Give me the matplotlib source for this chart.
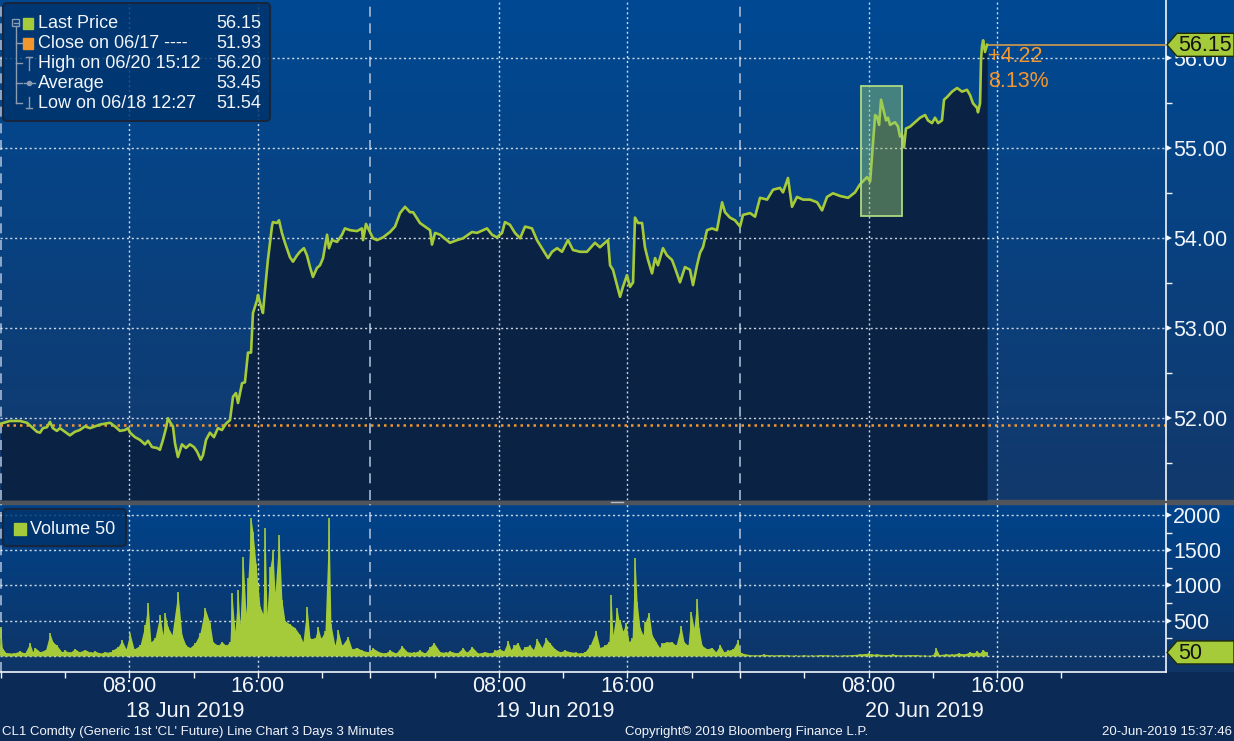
import numpy as np
import matplotlib.pyplot as plt
import matplotlib.transforms as mtrans
from matplotlib.colors import LinearSegmentedColormap
from matplotlib.patches import Rectangle, Polygon, FancyBboxPatch

plt.rcParams['font.family'] = ['Liberation Sans', 'DejaVu Sans']

W, H = 1234, 741

# time axis: chart hours from 18 Jun 00:00, each day is a 23h session (22:00-23:00 break dropped)
session_len = 23
price_t = [0.00, 0.58, 1.20, 1.64, 2.01, 2.26, 2.45, 2.63, 2.88, 3.07, 3.25, 3.50, 3.69, 4.00, 4.31,
           4.62, 4.93, 5.25, 5.56, 5.87, 6.18, 6.49, 6.80, 7.11, 7.42, 7.74, 7.92, 8.05, 8.36, 8.67,
           8.98, 9.17, 9.42, 9.73, 9.91, 10.10, 10.29, 10.41, 10.60, 10.72, 10.85, 11.03, 11.28, 11.53,
           11.78, 12.03, 12.22, 12.45, 12.59, 12.78, 13.02, 13.27, 13.52, 13.77, 14.02, 14.27, 14.46,
           14.64, 14.77, 15.02, 15.20, 15.39, 15.58, 15.70, 15.95, 16.01, 16.20, 16.32, 16.51, 16.63,
           16.88, 16.94, 17.19, 17.32, 17.50, 17.69, 18.00, 18.19, 18.44, 18.62, 18.87, 19.06, 19.25,
           19.43, 19.68, 19.87, 20.06, 20.31, 20.43, 20.62, 20.93, 21.24, 21.42, 21.74, 22.17, 22.48,
           22.55, 22.73, 22.98, 23.17, 23.42, 23.79, 24.23, 24.54, 24.85, 25.16, 25.47, 25.66, 26.09,
           26.40, 26.72, 26.84, 27.03, 27.34, 27.96, 28.40, 28.77, 29.33, 29.64, 30.26, 30.57, 30.88,
           31.20, 31.38, 31.69, 32.00, 32.32, 32.63, 33.06, 33.37, 33.75, 34.06, 34.31, 34.62, 34.93,
           35.30, 35.61, 36.05, 36.48, 36.98, 37.29, 37.79, 37.92, 38.10, 38.54, 38.72, 38.97, 39.16,
           39.35, 39.47, 39.66, 39.91, 40.09, 40.28, 40.53, 40.72, 40.90, 41.21, 41.46, 41.77, 41.96,
           42.27, 42.58, 42.89, 43.08, 43.33, 43.52, 43.70, 43.95, 44.26, 44.57, 44.89, 45.07, 45.38,
           45.69, 46.01, 46.19, 46.63, 46.94, 47.25, 47.69, 48.06, 48.49, 48.68, 48.99, 49.24, 49.55,
           49.93, 50.36, 50.80, 51.11, 51.42, 51.79, 52.23, 52.73, 53.16, 53.47, 53.91, 54.10, 54.28,
           54.41, 54.53, 54.66, 54.78, 54.90, 55.09, 55.21, 55.34, 55.65, 55.84, 55.96, 56.09, 56.21,
           56.33, 56.58, 56.90, 57.21, 57.52, 57.70, 57.95, 58.14, 58.33, 58.57, 58.70, 58.89, 59.20,
           59.51, 59.82, 60.13, 60.32, 60.50, 60.75, 60.81, 60.94, 61.00, 61.06, 61.13, 61.25, 61.38]
price_v = [51.94, 51.97, 51.97, 51.95, 51.89, 51.85, 51.84, 51.89, 51.90, 51.96, 51.89, 51.86, 51.89, 51.85, 51.81,
           51.85, 51.87, 51.91, 51.89, 51.91, 51.93, 51.94, 51.95, 51.91, 51.86, 51.87, 51.89, 51.84, 51.79, 51.76,
           51.71, 51.75, 51.68, 51.67, 51.65, 51.76, 51.89, 52.00, 51.94, 51.91, 51.72, 51.57, 51.71, 51.67,
           51.71, 51.68, 51.63, 51.54, 51.59, 51.76, 51.84, 51.79, 51.89, 51.87, 51.94, 51.98, 52.24,
           52.28, 52.17, 52.39, 52.40, 52.73, 52.73, 53.17, 53.31, 53.37, 53.24, 53.17, 53.54, 53.76,
           54.13, 54.18, 54.17, 54.20, 54.06, 53.95, 53.79, 53.74, 53.81, 53.85, 53.89, 53.81, 53.68,
           53.57, 53.67, 53.70, 53.78, 54.04, 53.89, 53.98, 53.96, 54.04, 54.11, 54.09, 54.08, 54.11,
           53.98, 54.16, 54.07, 54.00, 53.98, 54.01, 54.07, 54.13, 54.28, 54.35, 54.29, 54.29, 54.17,
           54.13, 54.09, 53.93, 54.06, 54.04, 53.95, 53.98, 54.00, 54.07, 54.06, 54.11, 54.04, 54.01,
           54.06, 54.18, 54.15, 54.06, 54.00, 54.13, 54.11, 53.98, 53.87, 53.78, 53.85, 53.89, 53.85,
           53.98, 53.87, 53.85, 53.85, 53.95, 53.90, 53.98, 53.70, 53.65, 53.35, 53.46, 53.59, 53.46,
           53.51, 54.23, 54.17, 54.17, 53.90, 53.76, 53.61, 53.78, 53.70, 53.89, 53.81, 53.76, 53.67,
           53.51, 53.68, 53.65, 53.48, 53.70, 53.84, 53.90, 54.09, 54.11, 54.09, 54.40, 54.29, 54.23,
           54.20, 54.13, 54.26, 54.28, 54.24, 54.45, 54.43, 54.54, 54.56, 54.51, 54.67, 54.35, 54.46,
           54.43, 54.43, 54.40, 54.31, 54.46, 54.50, 54.47, 54.45, 54.51, 54.60, 54.68, 54.63, 55.06,
           55.37, 55.35, 55.26, 55.54, 55.45, 55.31, 55.34, 55.26, 55.29, 55.24, 55.13, 55.15, 55.01,
           55.22, 55.24, 55.29, 55.34, 55.37, 55.31, 55.28, 55.34, 55.28, 55.31, 55.54, 55.57, 55.63,
           55.67, 55.63, 55.65, 55.59, 55.50, 55.45, 55.40, 55.50, 55.98, 56.13, 56.20, 56.07, 56.15]

vol_t = [0.0, 0.1, 0.3, 0.8, 1.2, 1.5, 1.82, 2.0, 2.13, 2.45, 2.8, 3.07, 3.25, 3.5, 3.8, 4.0, 4.3, 4.62,
         4.9, 5.25, 5.6, 5.87, 6.2, 6.49, 6.8, 7.0, 7.3, 7.55, 7.8, 8.05, 8.3, 8.67, 8.98, 9.17, 9.35,
         9.6, 9.91, 10.1, 10.22, 10.41, 10.66, 11.03, 11.28, 11.53, 11.78, 12.09, 12.4, 12.71, 13.02,
         13.21, 13.52, 13.77, 14.02, 14.27, 14.39, 14.58, 14.77, 14.89, 15.08, 15.27, 15.39, 15.58,
         15.7, 15.89, 16.01, 16.14, 16.32, 16.45, 16.57, 16.76, 16.94, 17.07, 17.32, 17.5, 17.69, 18.0,
         18.31, 18.62, 18.81, 19.06, 19.25, 19.56, 19.74, 19.93, 20.18, 20.43, 20.55, 20.8, 20.99,
         21.24, 21.61, 21.86, 22.17, 22.48, 22.86,
         23.17, 23.54, 23.9, 24.23, 24.6, 24.97, 25.3, 25.7, 26.09, 26.4, 26.72, 26.96, 27.34, 27.7,
         27.96, 28.4, 28.77, 29.0, 29.33, 29.7, 30.14, 30.5, 30.76, 31.07, 31.3, 31.57, 31.75, 31.94,
         32.19, 32.4, 32.63, 32.94, 33.15, 33.37, 33.68, 33.93, 34.18, 34.49, 34.8, 35.11, 35.43, 35.8,
         36.1, 36.36, 36.67, 37.04, 37.29, 37.6, 37.85, 37.98, 38.1, 38.35, 38.48, 38.54, 38.72, 38.91,
         39.1, 39.29, 39.47, 39.6, 39.78, 39.97, 40.09, 40.34, 40.53, 40.78, 41.0, 41.15, 41.46, 41.77,
         42.02, 42.33, 42.52, 42.77, 42.96, 43.14, 43.33, 43.45, 43.64, 43.95, 44.26, 44.5, 44.76, 45.0,
         45.26, 45.57, 45.88, 46.0,
         46.13, 46.6, 47.0, 47.5, 48.0, 48.5, 49.0, 49.5, 50.0, 50.5, 51.0, 51.5, 52.0, 52.5, 53.0, 53.5,
         54.0, 54.2, 54.5, 55.0, 55.5, 56.0, 56.5, 57.0, 57.5, 58.0, 58.2, 58.4, 58.8, 59.2, 59.6, 60.0,
         60.3, 60.5, 60.75, 60.9, 61.13, 61.3, 61.38]
vol_v = [410, 120, 50, 40, 70, 40, 180, 60, 120, 60, 90, 320, 200, 150, 60, 80, 50, 100,
         60, 90, 50, 70, 40, 60, 50, 90, 130, 220, 100, 320, 100, 150, 440, 750, 200,
         250, 580, 300, 610, 410, 300, 910, 300, 150, 120, 180, 320, 680, 470,
         200, 150, 200, 150, 200, 890, 350, 935, 450, 1400, 600, 1100, 1950,
         1760, 1300, 1000, 700, 600, 1810, 600, 1260, 1500, 900, 1710, 800, 500, 450,
         400, 300, 200, 700, 250, 250, 410, 250, 350, 1950, 450, 150, 370,
         150, 270, 100, 120, 80, 60,
         110, 60, 40, 80, 40, 140, 60, 50, 80, 40, 130, 185, 60, 50,
         70, 40, 115, 50, 130, 40, 60, 40, 80, 100, 70, 210, 90, 150,
         185, 80, 130, 150, 90, 240, 120, 250, 180, 100, 60, 80, 60, 50,
         40, 60, 150, 350, 120, 150, 200, 860, 300, 680, 500, 510, 350, 470,
         200, 250, 1390, 765, 400, 300, 480, 610, 300, 200, 120, 185, 200, 200,
         150, 425, 200, 150, 625, 400, 810, 400, 150, 100, 120, 60, 155, 60,
         80, 100, 225, 60,
         40, 20, 15, 25, 15, 20, 15, 10, 15, 10, 20, 15, 10, 15, 20, 30,
         40, 25, 30, 20, 25, 15, 20, 20, 10, 15, 110, 20, 30, 25, 40, 30,
         60, 40, 70, 40, 90, 50, 50]

close_prev = 51.93
last_price = 56.15
high_val = 56.20
avg_val = 53.45
low_val = 51.54
vol_last = 50
legend_labels = ['Last Price', 'Close on 06/17 ----', 'High on 06/20 15:12', 'Average', 'Low on 06/18 12:27']
legend_values = [last_price, close_prev, high_val, avg_val, low_val]
day_labels = ['18 Jun 2019', '19 Jun 2019', '20 Jun 2019']
hour_labels = ['08:00', '16:00']
price_ticks = [52, 53, 54, 55, 56]
vol_ticks = [500, 1000, 1500, 2000]
box_t = (53.55, 56.10)   # highlighted move on 20 Jun
box_p = (54.25, 55.69)

LIME = '#a6cb3a'
ORANGE = '#f2962e'
WHITE = '#f2f5fa'
FILL = '#0a2244'

fig = plt.figure(figsize=(W / 100, H / 100), dpi=100)
fig.patch.set_facecolor('#0b2a56')


def frac(x0, y0, x1, y1):
    return [x0 / W, 1 - y1 / H, (x1 - x0) / W, (y1 - y0) / H]


# background panels
bg = fig.add_axes([0, 0, 1, 1], zorder=0)
grad = np.linspace(0, 1, 256).reshape(-1, 1)
cm_p = LinearSegmentedColormap.from_list('p', ['#004993', '#12396c'])
cm_v = LinearSegmentedColormap.from_list('v', ['#00438b', '#0f3566'])
bg.imshow(grad, cmap=cm_p, extent=[0, W, 500, 0], aspect='auto')
bg.imshow(grad, cmap=cm_v, extent=[0, W, 672, 504], aspect='auto')
bg.add_patch(Rectangle((0, 500), W, 4, color='#50555c'))
bg.plot([611, 623], [502, 502], color='#b5bcc6', lw=1)
bg.set_xlim(0, W)
bg.set_ylim(H, 0)
bg.axis('off')

ax_p = fig.add_axes(frac(0, 0, 1166, 500), zorder=1)
ax_v = fig.add_axes(frac(0, 504, 1166, 672), zorder=1)
for a in (ax_p, ax_v):
    a.patch.set_visible(False)
    for s in a.spines.values():
        s.set_visible(False)
    a.spines['right'].set_visible(True)
    a.spines['right'].set_color(WHITE)
    a.spines['right'].set_linewidth(1.2)
    a.set_xlim(-0.04, 72.51)
ax_v.spines['bottom'].set_visible(True)
ax_v.spines['bottom'].set_color(WHITE)
ax_v.spines['bottom'].set_linewidth(1.2)
ax_p.set_ylim(51.092, 56.648)
ax_v.set_ylim(-227, 2155)

# grid
hour_pos = [session_len * d + h for d in range(3) for h in (8, 16)]
for a in (ax_p, ax_v):
    for t in hour_pos:
        a.axvline(t, color=WHITE, lw=1, ls=(0, (1.5, 2)), alpha=0.85, zorder=2)
    for d in range(3):
        a.axvline(session_len * d, color='#a8bad4', lw=1.2, ls=(0, (6, 4)), zorder=2)
for p in price_ticks:
    ax_p.axhline(p, color=WHITE, lw=1, ls=(0, (1.5, 2)), alpha=0.85, zorder=2)
for v in [0] + vol_ticks:
    ax_v.axhline(v, color=WHITE, lw=1, ls=(0, (1.5, 2)), alpha=0.85, zorder=2)

# price
ax_p.fill_between(price_t, price_v, 51.092, color=FILL, lw=0, zorder=1)
ax_p.axhline(close_prev, color=ORANGE, lw=1.8, ls=(0, (1, 1.6)), zorder=2.5)
ax_p.plot(price_t, price_v, color=LIME, lw=1.9, zorder=4, solid_joinstyle='round')
ax_p.plot([price_t[-1], 72.51], [last_price, last_price], color='#d49b4c', lw=1.2, zorder=3)
ax_p.add_patch(Rectangle((box_t[0], box_p[0]), box_t[1] - box_t[0], box_p[1] - box_p[0],
                         fc=(0.58, 0.80, 0.45, 0.45), ec='#acd982', lw=1.3, zorder=5))

chg = last_price - close_prev
pct = chg / close_prev * 100
ax_p.annotate(f'{chg:+.2f}', xy=(price_t[-1], last_price), xytext=(1, -1), textcoords='offset pixels',
              ha='left', va='top', color=ORANGE, fontsize=15.5, zorder=6)
ax_p.annotate(f'{pct:.2f}%', xy=(price_t[-1], last_price), xytext=(1, -26), textcoords='offset pixels',
              ha='left', va='top', color=ORANGE, fontsize=15.5, zorder=6)

# volume
ax_v.fill_between(vol_t, 0, vol_v, color=LIME, lw=0, zorder=3)
ax_v.vlines(vol_t, 0, vol_v, color=LIME, lw=1.2, zorder=3)

# right axes
for a, ticks, minor, fmt in ((ax_p, price_ticks, np.arange(51.5, 56.0, 1.0), '{:.2f}'),
                             (ax_v, vol_ticks, [250, 750, 1250, 1750], '{:d}')):
    a.yaxis.tick_right()
    a.set_yticks(ticks, [fmt.format(t) for t in ticks])
    a.set_yticks(minor, minor=True)
    a.tick_params(axis='y', which='major', length=0, pad=5, labelsize=15.5, labelcolor=WHITE)
    a.tick_params(axis='y', which='minor', length=4, width=1, color=WHITE, direction='out')
    tri = mtrans.blended_transform_factory(a.transAxes, a.transData) + \
        mtrans.ScaledTranslation(3 / 100, 0, fig.dpi_scale_trans)
    a.plot([1] * len(ticks), ticks, transform=tri, ls='none', marker='>', ms=5, mew=0,
           color=WHITE, clip_on=False, zorder=6)

ax_p.tick_params(axis='x', bottom=False, labelbottom=False)
ax_v.set_xticks(hour_pos, hour_labels * 3)
ax_v.set_xticks([session_len * d + h for d in range(3) for h in (0, 4, 12, 20)], minor=True)
ax_v.tick_params(axis='x', which='both', length=4, width=1, color=WHITE, direction='out',
                 labelsize=15.5, labelcolor=WHITE, pad=-1)
day_tr = mtrans.blended_transform_factory(ax_v.transData, ax_v.transAxes)
for d, lab in enumerate(day_labels):
    ax_v.text(session_len * d + session_len / 2, -0.235, lab, transform=day_tr, ha='center', va='center',
              fontsize=15.5, color=WHITE)

# overlay: legends, value tags, footer
ov = fig.add_axes([0, 0, 1, 1], zorder=3)
ov.set_xlim(0, W)
ov.set_ylim(H, 0)
ov.axis('off')


def px(a, x, y):
    X, Y = a.transData.transform((x, y))
    return X, H - Y


def tag(y, text):
    ov.add_patch(Polygon([(1167, y), (1177, y - 11.5), (1234, y - 11.5), (1234, y + 11.5), (1177, y + 11.5)],
                         closed=True, fc=LIME, ec='#1d2b0b', lw=1))
    ov.text(1178, y + 1, text, fontsize=15.5, color='#111111', va='center', ha='left')


tag(px(ax_p, 0, last_price)[1], f'{last_price:.2f}')
tag(px(ax_v, 0, vol_last)[1], f'{vol_last}')

ov.add_patch(FancyBboxPatch((3, 3), 267, 118, boxstyle='round,pad=0,rounding_size=4',
                            fc=(0.0, 0.2, 0.42, 0.82), ec='#17263d', lw=1.5))
GRAY = '#8b9bb2'
for i, (lab, val) in enumerate(zip(legend_labels, legend_values)):
    y = 23 + 20 * i
    ov.text(38, y, lab, fontsize=13, color=WHITE, va='center', ha='left')
    ov.text(261, y, f'{val:.2f}', fontsize=13, color=WHITE, va='center', ha='right')
ov.add_patch(Rectangle((12, 19), 7, 7, fc='none', ec=GRAY, lw=1))
ov.plot([13.5, 17.5], [22.5, 22.5], color=GRAY, lw=1)
ov.plot([15.5, 15.5], [26, 103], color=GRAY, lw=1)
for y in (43, 63, 83, 103):
    ov.plot([15.5, 22], [y, y], color=GRAY, lw=1)
ov.add_patch(Rectangle((23, 18), 10, 11, color=LIME))
ov.add_patch(Rectangle((23, 38), 10, 11, color=ORANGE))
ov.plot([26, 32], [57, 57], color=GRAY, lw=1)
ov.plot([29, 29], [57, 70], color=GRAY, lw=1)
ov.plot([24, 35], [83, 83], color=GRAY, lw=1)
ov.plot([29], [83], marker='o', ms=3, color=GRAY)
ov.plot([29, 29], [97, 108], color=GRAY, lw=1)
ov.plot([26, 32], [108, 108], color=GRAY, lw=1)

ov.add_patch(FancyBboxPatch((3, 509), 123, 37, boxstyle='round,pad=0,rounding_size=4',
                            fc=(0.0, 0.2, 0.42, 0.82), ec='#17263d', lw=1.5))
ov.add_patch(Rectangle((14, 523), 12, 12, color=LIME))
ov.text(30, 529, f'Volume {vol_last}', fontsize=13, color=WHITE, va='center', ha='left')

ov.text(2, 732, "CL1 Comdty (Generic 1st 'CL' Future) Line Chart 3 Days 3 Minutes",
        fontsize=9.5, color=WHITE, va='center', ha='left')
ov.text(747, 732, 'Copyright\u00a9 2019 Bloomberg Finance L.P.', fontsize=9.5, color=WHITE,
        va='center', ha='center')
ov.text(1232, 732, '20-Jun-2019 15:37:46', fontsize=9.5, color=WHITE, va='center', ha='right')

fig.savefig('out.png', dpi=100, facecolor=fig.get_facecolor())
